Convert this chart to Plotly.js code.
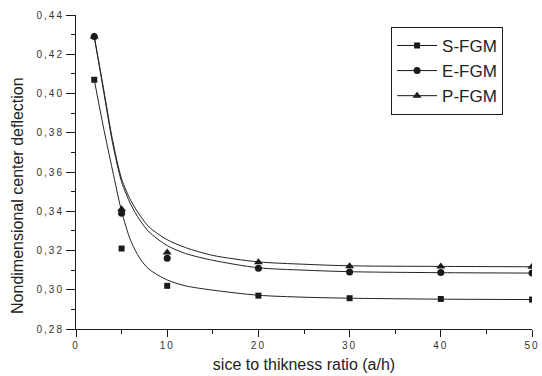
<!DOCTYPE html>
<html>
<head>
<meta charset="utf-8">
<script src="https://cdn.plot.ly/plotly-3.0.1.min.js"></script>
<style>
  html, body { margin: 0; padding: 0; background: #fff; }
  #chart { width: 542px; height: 376px; }
  .xtick text, .ytick text { letter-spacing: 2px; }
</style>
</head>
<body>
<div id="chart"></div>
<script>
// Data points (a/h ratio) and deflections
const xData = [2, 5, 10, 20, 30, 40, 50];
const sData = [0.407, 0.321, 0.302, 0.297, 0.2957, 0.2953, 0.295];
const eData = [0.429, 0.339, 0.316, 0.311, 0.309, 0.3088, 0.3085];
const pData = [0.429, 0.341, 0.319, 0.314, 0.312, 0.3119, 0.3117];

// Fitted curves
const xFit = [2, 3, 4, 5, 6, 7, 8, 10, 12, 15, 20, 25, 30, 40, 50];
const sFit = [0.407, 0.383, 0.361, 0.340, 0.325, 0.316, 0.3105, 0.305, 0.302, 0.2998, 0.2972, 0.2962, 0.2957, 0.2952, 0.295];
const eFit = [0.429, 0.402, 0.375, 0.355, 0.3435, 0.3355, 0.3295, 0.3225, 0.3185, 0.315, 0.3112, 0.3100, 0.3092, 0.3087, 0.3085];
const pFit = [0.429, 0.403, 0.3765, 0.3565, 0.3455, 0.338, 0.332, 0.3255, 0.3215, 0.3175, 0.3142, 0.3130, 0.3122, 0.3119, 0.3117];

const seriesNames = ['S-FGM', 'E-FGM', 'P-FGM'];
const symbols = ['square', 'circle', 'triangle-up'];
const sizes = [6, 7, 8];

const ink = '#1a1a1a';
const lineStyle = {color: '#222', width: 1, shape: 'spline', smoothing: 0.8};

const traces = [];
[sFit, eFit, pFit].forEach((yf, i) => {
  traces.push({x: xFit, y: yf, mode: 'lines', line: lineStyle, showlegend: false, hoverinfo: 'skip'});
});
[sData, eData, pData].forEach((yd, i) => {
  traces.push({x: xData, y: yd, mode: 'markers', marker: {symbol: symbols[i], size: sizes[i], color: ink}, showlegend: false});
});
// legend entries (line + marker)
seriesNames.forEach((nm, i) => {
  traces.push({x: [null], y: [null], name: nm, mode: 'lines+markers',
    line: {color: ink, width: 1}, marker: {symbol: symbols[i], size: sizes[i], color: ink}});
});

const tickFont = {family: 'Liberation Sans, Arial, sans-serif', size: 10, color: '#333'};

const layout = {
  width: 542, height: 376,
  margin: {l: 76, r: 10, t: 15, b: 47},
  paper_bgcolor: '#fff', plot_bgcolor: '#fff',
  separators: ', ',
  font: {family: 'Liberation Sans, Arial, sans-serif', color: '#222'},
  xaxis: {
    range: [0, 50], dtick: 10, tick0: 0,
    ticks: 'outside', ticklen: 7, tickwidth: 1, tickcolor: ink,
    minor: {ticks: 'outside', dtick: 5, ticklen: 4, tickcolor: ink, showgrid: false},
    showline: true, linecolor: ink, linewidth: 1,
    showgrid: false, zeroline: false,
    tickfont: tickFont,
    title: {text: 'sice to thikness ratio (a/h)', font: {size: 16, color: '#222'}, standoff: 8}
  },
  yaxis: {
    range: [0.28, 0.44], dtick: 0.02, tick0: 0.28, tickformat: '.2f',
    ticks: 'outside', ticklen: 9, tickwidth: 1, tickcolor: ink,
    minor: {ticks: 'outside', dtick: 0.01, ticklen: 4, tickcolor: ink, showgrid: false},
    showline: true, linecolor: ink, linewidth: 1,
    showgrid: false, zeroline: false,
    tickfont: tickFont
  },
  xaxis2: {
    overlaying: 'x', side: 'top', range: [0, 50], dtick: 10, tick0: 0,
    ticks: 'inside', ticklen: 5, tickcolor: ink,
    minor: {ticks: 'inside', dtick: 5, ticklen: 3, tickcolor: ink, showgrid: false},
    showline: true, linecolor: ink, linewidth: 1, showticklabels: false,
    showgrid: false, zeroline: false
  },
  yaxis2: {
    overlaying: 'y', side: 'right', range: [0.28, 0.44], dtick: 0.02, tick0: 0.28,
    ticks: 'inside', ticklen: 5, tickcolor: ink,
    minor: {ticks: 'inside', dtick: 0.01, ticklen: 3, tickcolor: ink, showgrid: false},
    showline: true, linecolor: ink, linewidth: 1, showticklabels: false,
    showgrid: false, zeroline: false
  },
  legend: {
    x: 0.691, y: 0.962, xanchor: 'left', yanchor: 'top',
    bordercolor: ink, borderwidth: 1, bgcolor: '#fff',
    font: {size: 17, color: '#222'}, tracegroupgap: 0, itemwidth: 40
  },
  annotations: [{
    text: 'Nondimensional center deflection',
    xref: 'paper', yref: 'paper', x: -0.127, y: 0.424,
    xanchor: 'center', yanchor: 'middle', textangle: -90, showarrow: false,
    font: {size: 16, color: '#222'}
  }]
};

Plotly.newPlot('chart', traces, layout, {displayModeBar: false, staticPlot: true});
</script>
</body>
</html>
